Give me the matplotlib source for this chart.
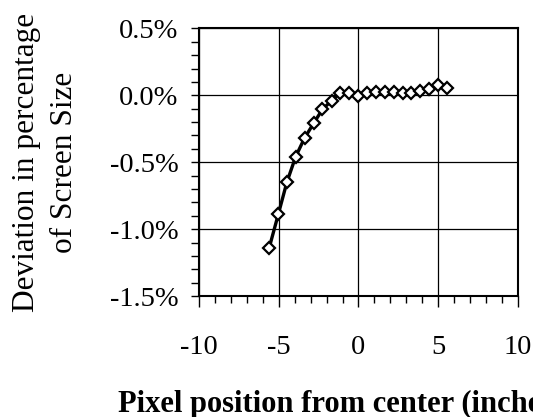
import matplotlib.pyplot as plt
from matplotlib.ticker import MultipleLocator, FuncFormatter

# pixel position (inches) and deviation (% of screen size)
pos = [-5.61, -5.04, -4.50, -3.95, -3.39, -2.82, -2.26, -1.69, -1.15, -0.59, 0.0,
       0.54, 1.11, 1.65, 2.22, 2.78, 3.33, 3.89, 4.46, 5.00, 5.56]
dev = [-1.14, -0.89, -0.65, -0.46, -0.32, -0.21, -0.105, -0.04, 0.02, 0.02, -0.005,
       0.02, 0.022, 0.027, 0.025, 0.02, 0.015, 0.035, 0.045, 0.075, 0.052]

plt.rcParams['font.family'] = ['Liberation Serif', 'DejaVu Serif']
plt.rcParams['axes.unicode_minus'] = False

fig = plt.figure(figsize=(5.33, 4.17), dpi=100)
ax = fig.add_axes([0.374, 0.290, 0.597, 0.642])

ax.plot(pos, dev, color='black', lw=2.4, marker='D', ms=6,
        mfc='white', mec='black', mew=1.6, zorder=3)

ax.set_xlim(-10, 10)
ax.set_ylim(-1.5, 0.5)
ax.xaxis.set_major_locator(MultipleLocator(5))
ax.xaxis.set_minor_locator(MultipleLocator(1))
ax.yaxis.set_major_locator(MultipleLocator(0.5))
ax.yaxis.set_minor_locator(MultipleLocator(0.1))
ax.yaxis.set_major_formatter(FuncFormatter(lambda v, p: f'{v:.1f}%'))
ax.grid(True, which='major', color='black', lw=0.9)
ax.set_axisbelow(True)

for s in ax.spines.values():
    s.set_linewidth(1.5)
ax.tick_params(axis='y', which='both', direction='out', length=6, width=1,
               labelsize=20.5, pad=9)
ax.tick_params(axis='x', which='major', direction='out', length=8, width=1,
               labelsize=20.5, pad=20)
ax.tick_params(axis='x', which='minor', direction='out', length=5, width=1)

fig.text(0.050, 0.611, 'Deviation in percentage', rotation=90,
         ha='center', va='center', fontsize=22.5)
fig.text(0.121, 0.611, 'of Screen Size', rotation=90,
         ha='center', va='center', fontsize=22.5)
# the label runs past the right edge in the original too
fig.text(0.221, 0.012, 'Pixel position from center (inches)',
         ha='left', va='baseline', fontsize=22, fontweight='bold')

fig.savefig('out.png', dpi=100)
